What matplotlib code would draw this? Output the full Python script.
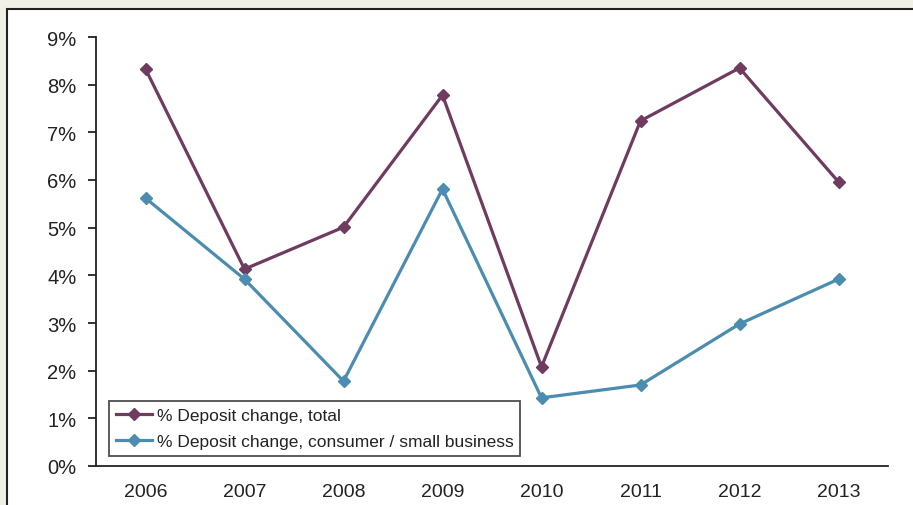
import matplotlib.pyplot as plt
from matplotlib.patches import Rectangle
from matplotlib.ticker import FuncFormatter

years = ['2006', '2007', '2008', '2009', '2010', '2011', '2012', '2013']
total = [8.33, 4.13, 5.01, 7.78, 2.08, 7.24, 8.35, 5.96]
consumer = [5.62, 3.92, 1.78, 5.81, 1.43, 1.70, 2.98, 3.92]

plt.rcParams['font.family'] = ['Liberation Sans', 'DejaVu Sans']

fig = plt.figure(figsize=(9.13, 5.06), dpi=100)
fig.patch.set_facecolor('#f1f0e6')
# white panel with black border, behind the axes
panel = Rectangle((7 / 913, -0.1), 1.2, 1 - 10 / 506 + 0.1,
                  transform=fig.transFigure, facecolor='white',
                  edgecolor='#222222', linewidth=1.5, zorder=-10)
fig.add_artist(panel)

ax = fig.add_axes([96 / 913, 1 - 467 / 506, 792 / 913, 429 / 506])
ax.set_facecolor('none')
x = list(range(len(years)))
ax.plot(x, total, color='#6f3b5f', lw=2.3, marker='D', ms=6.5,
        label='% Deposit change, total')
ax.plot(x, consumer, color='#4b8cb0', lw=2.3, marker='D', ms=6.5,
        label='% Deposit change, consumer / small business')

ax.set_xlim(-0.5, 7.5)
ax.set_ylim(0, 9)
ax.set_yticks(range(0, 10))
ax.yaxis.set_major_formatter(FuncFormatter(lambda v, p: f'{v:.0f}%'))
ax.set_xticks(x)
ax.set_xticklabels(years)
ax.spines['top'].set_visible(False)
ax.spines['right'].set_visible(False)
for s in ['left', 'bottom']:
    ax.spines[s].set_color('#222222')
    ax.spines[s].set_linewidth(1.3)
ax.tick_params(axis='y', length=6, width=1.3, color='#222222', labelsize=14.5,
               labelcolor='#222222', pad=8)
ax.tick_params(axis='x', length=0, labelsize=14, labelcolor='#222222', pad=12)

leg = ax.legend(loc='lower left', bbox_to_anchor=(109 / 913, 49 / 506),
                bbox_transform=fig.transFigure, fontsize=12.5, frameon=True,
                fancybox=False, edgecolor='#222222', handlelength=2.1,
                handletextpad=0.25, borderpad=0.4, labelspacing=0.6,
                borderaxespad=0)
leg.get_frame().set_linewidth(1.3)
for t in leg.get_texts():
    t.set_color('#222222')

fig.savefig('out.png', dpi=100, facecolor=fig.get_facecolor())
